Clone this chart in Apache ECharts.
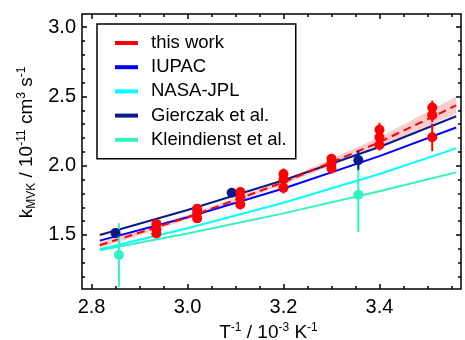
<!DOCTYPE html>
<html>
<head>
<meta charset="utf-8">
<script src="https://cdn.jsdelivr.net/npm/echarts@6/dist/echarts.min.js"></script>
<style>
  html, body { margin: 0; padding: 0; background: #fff; }
  #chart { width: 465px; height: 340px; }
</style>
</head>
<body>
<div id="chart"></div>
<script>
// x = 1/T in 10^-3 K^-1, y = k(MVK) in 10^-11 cm3 s-1

// fitted curves
const fitX = [2.817, 3.0, 3.2, 3.4, 3.56];
const thisWorkFit = [1.426, 1.627, 1.88, 2.17, 2.435];
const thisWorkLow = [1.405, 1.612, 1.865, 2.135, 2.377];
const thisWorkHigh = [1.448, 1.642, 1.895, 2.205, 2.50];
const iupacFit = [1.459, 1.628, 1.835, 2.069, 2.276];
const nasaFit = [1.397, 1.548, 1.733, 1.94, 2.125];
const gierczakFit = [1.50, 1.68, 1.895, 2.135, 2.357];
const kleindienstFit = [1.39, 1.511, 1.656, 1.815, 1.952];

// measurements (x, k, error)
const thisWorkX = [2.935, 2.935, 2.935, 3.02, 3.02, 3.02, 3.11, 3.11, 3.11, 3.20, 3.20, 3.20,
                   3.30, 3.30, 3.30, 3.40, 3.40, 3.40, 3.51, 3.51, 3.51];
const thisWorkK = [1.58, 1.54, 1.51, 1.69, 1.66, 1.62, 1.81, 1.77, 1.72, 1.94, 1.90, 1.84,
                   2.05, 2.015, 1.98, 2.26, 2.205, 2.15, 2.42, 2.365, 2.205];
const thisWorkErr = [0.03, 0.03, 0.03, 0.03, 0.03, 0.03, 0.035, 0.03, 0.035, 0.04, 0.03, 0.04,
                     0.035, 0.03, 0.035, 0.05, 0.04, 0.04, 0.05, 0.05, 0.1];
const gierczakX = [2.85, 3.092, 3.356];
const gierczakK = [1.515, 1.805, 2.04];
const gierczakErr = [0.03, 0.025, 0.07];
const kleindienstX = [2.857, 3.356];
const kleindienstK = [1.355, 1.79];
const kleindienstErr = [0.23, 0.27];

// ticks
const xMajor = [2.8, 3.0, 3.2, 3.4];
const xMinor = [2.85, 2.9, 2.95, 3.05, 3.1, 3.15, 3.25, 3.3, 3.35, 3.45, 3.5, 3.55];
const yMajor = [1.5, 2.0, 2.5, 3.0];
const yMinor = [1.2, 1.3, 1.4, 1.6, 1.7, 1.8, 1.9, 2.1, 2.2, 2.3, 2.4, 2.6, 2.7, 2.8, 2.9];

const legendNames = ['this work', 'IUPAC', 'NASA-JPL', 'Gierczak et al.', 'Kleindienst et al.'];

const FONT = 'Liberation Sans, Arial, sans-serif';
const RED = '#ff0000';
const BLUE = '#0000ff';
const CYAN = '#00ffff';
const NAVY = '#0a1a8c';
const AQUA = '#33f2c2';

const myChart = echarts.init(document.getElementById('chart'), null, { renderer: 'canvas' });

const pairs = (xs, ys) => xs.map((x, i) => [x, ys[i]]);

// axis with inside ticks only (the frame comes from the grid border)
function makeAxis(type, position, ticks, len, withLabels) {
  const ax = {
    type: 'value',
    position: position,
    min: type === 'x' ? 2.78 : 1.11,
    max: type === 'x' ? 3.57 : 3.095,
    axisLine: { show: false },
    splitLine: { show: false },
    axisTick: {
      show: true, inside: true, length: len, customValues: ticks,
      lineStyle: { color: '#000', width: 1.5 }
    },
    axisLabel: { show: false }
  };
  if (withLabels) {
    ax.axisLabel = {
      show: true, customValues: ticks, formatter: v => v.toFixed(1),
      fontSize: 20, color: '#000', fontFamily: FONT, margin: type === 'x' ? 8 : 6
    };
  }
  return ax;
}

const xAxes = [
  makeAxis('x', 'bottom', xMajor, 5, true),
  makeAxis('x', 'bottom', xMinor, 3, false),
  makeAxis('x', 'top', xMajor, 5, false),
  makeAxis('x', 'top', xMinor, 3, false)
];
xAxes[0].name = '{n|T}{s|-1}{n| / 10}{s|-3}{n| K}{s|-1}';
xAxes[0].nameLocation = 'middle';
xAxes[0].nameGap = 28;
xAxes[0].nameTextStyle = {
  padding: [0, 6, 0, 0],
  rich: {
    n: { fontSize: 19, color: '#000', fontFamily: FONT, lineHeight: 22 },
    s: { fontSize: 12, color: '#000', fontFamily: FONT, verticalAlign: 'top' }
  }
};

const yAxes = [
  makeAxis('y', 'left', yMajor, 5, true),
  makeAxis('y', 'left', yMinor, 3, false),
  makeAxis('y', 'right', yMajor, 5, false),
  makeAxis('y', 'right', yMinor, 3, false)
];
yAxes[0].name = '{n|k}{b|MVK}{n| / 10}{s|-11}{n| cm}{s|3}{n| s}{s|-1}';
yAxes[0].nameLocation = 'middle';
yAxes[0].nameGap = 44;
yAxes[0].nameTextStyle = {
  padding: [0, 0, 0, 18],
  rich: {
    n: { fontSize: 19, color: '#000', fontFamily: FONT, lineHeight: 22 },
    s: { fontSize: 12, color: '#000', fontFamily: FONT, verticalAlign: 'top' },
    b: { fontSize: 12, color: '#000', fontFamily: FONT, verticalAlign: 'bottom' }
  }
};

function fitLine(name, ys, color, dashed) {
  return {
    name: name,
    type: 'line',
    data: pairs(fitX, ys),
    symbol: 'none',
    color: color,
    lineStyle: { color: color, width: 2, type: dashed ? [8, 5] : 'solid' },
    z: 2
  };
}

function errorBars(xs, ys, errs, color) {
  return {
    type: 'custom',
    clip: true,
    data: xs.map((x, i) => [x, ys[i], errs[i]]),
    renderItem: (params, api) => {
      const lo = api.coord([api.value(0), api.value(1) - api.value(2)]);
      const hi = api.coord([api.value(0), api.value(1) + api.value(2)]);
      return {
        type: 'line',
        shape: { x1: lo[0], y1: lo[1], x2: hi[0], y2: hi[1] },
        style: { stroke: color, lineWidth: 2 }
      };
    },
    z: 3
  };
}

function points(name, xs, ys, color) {
  return {
    name: name,
    type: 'scatter',
    data: pairs(xs, ys),
    symbol: 'circle',
    symbolSize: 10,
    itemStyle: { color: color, opacity: 1 },
    z: 4
  };
}

const option = {
  animation: false,
  grid: {
    left: 82, top: 14, right: 4, bottom: 51,
    show: true, borderColor: '#000', borderWidth: 1.5,
    outerBoundsMode: 'none'
  },
  legend: {
    orient: 'vertical',
    left: 97, top: 24,
    padding: [9, 9, 9, 18],
    itemWidth: 23, itemHeight: 4, itemGap: 4.2,
    borderColor: '#000', borderWidth: 1.5,
    icon: 'rect',
    textStyle: { fontSize: 18.5, color: '#000', fontFamily: FONT, lineHeight: 20, padding: [0, 0, 0, 8] },
    data: legendNames
  },
  xAxis: xAxes,
  yAxis: yAxes,
  series: [
    // confidence band of this work
    {
      type: 'custom',
      data: fitX.map((x, i) => [x, thisWorkLow[i], thisWorkHigh[i]]),
      renderItem: (params, api) => {
        if (params.dataIndex !== 0) return null;
        const upper = fitX.map((x, i) => api.coord([x, thisWorkHigh[i]]));
        const lower = fitX.map((x, i) => api.coord([x, thisWorkLow[i]])).reverse();
        return {
          type: 'polygon',
          shape: { points: upper.concat(lower) },
          style: { fill: 'rgba(245, 120, 120, 0.38)' }
        };
      },
      z: 1
    },
    fitLine('Kleindienst et al.', kleindienstFit, AQUA),
    fitLine('NASA-JPL', nasaFit, CYAN),
    fitLine('IUPAC', iupacFit, BLUE),
    fitLine('Gierczak et al.', gierczakFit, NAVY),
    fitLine('this work', thisWorkFit, RED, true),
    errorBars(kleindienstX, kleindienstK, kleindienstErr, AQUA),
    errorBars(gierczakX, gierczakK, gierczakErr, NAVY),
    errorBars(thisWorkX, thisWorkK, thisWorkErr, RED),
    points('Kleindienst data', kleindienstX, kleindienstK, AQUA),
    points('Gierczak data', gierczakX, gierczakK, NAVY),
    points('this work data', thisWorkX, thisWorkK, RED)
  ]
};

myChart.setOption(option);
</script>
</body>
</html>
